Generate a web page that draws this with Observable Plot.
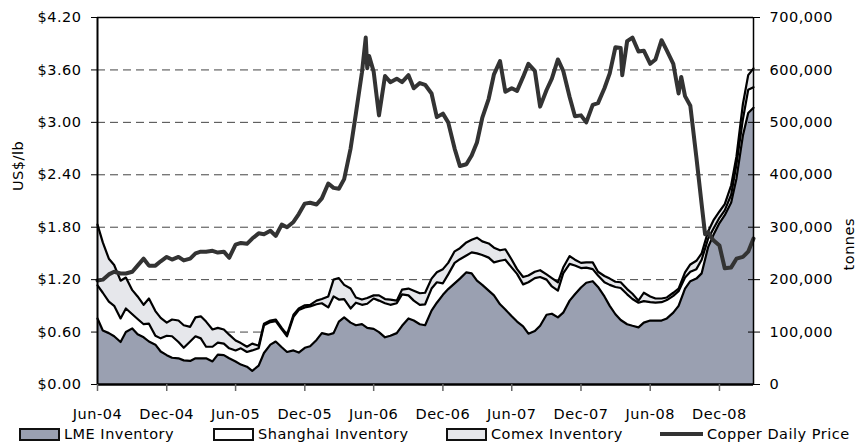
<!DOCTYPE html>
<html><head><meta charset="utf-8">
<script src="https://cdn.jsdelivr.net/npm/d3@7"></script>
<script src="https://cdn.jsdelivr.net/npm/@observablehq/plot@0.6"></script>
<style>
body{margin:0;background:#fff;font-family:"DejaVu Sans",sans-serif;}
#wrap{width:856px;overflow:hidden;}
.legend{position:relative;height:24px;width:856px;font-size:14.5px;letter-spacing:0.5px;color:#000;}
.item{position:absolute;top:0;height:24px;display:flex;align-items:center;white-space:nowrap;}
.sw{display:inline-block;width:37px;height:9px;border:2px solid #111;margin-right:4px;}
.ln{display:inline-block;width:43px;height:4px;background:#333;margin-right:4px;}
</style></head><body>
<div id="wrap"><div id="chart"></div>
<div class="legend" id="legend"></div></div>
<script>
// Semi-monthly observation dates
const dates = [
"2004-06-01","2004-06-15","2004-07-01","2004-07-15","2004-08-01","2004-08-15","2004-09-01","2004-09-15","2004-10-01","2004-10-15",
"2004-11-01","2004-11-15","2004-12-01","2004-12-15","2005-01-01","2005-01-15","2005-02-01","2005-02-15","2005-03-01","2005-03-15",
"2005-04-01","2005-04-15","2005-05-01","2005-05-15","2005-06-01","2005-06-15","2005-07-01","2005-07-15","2005-08-01","2005-08-15",
"2005-09-01","2005-09-15","2005-10-01","2005-10-15","2005-11-01","2005-11-15","2005-12-01","2005-12-15","2006-01-01","2006-01-15",
"2006-02-01","2006-02-15","2006-03-01","2006-03-15","2006-04-01","2006-04-15","2006-05-01","2006-05-15","2006-06-01","2006-06-15",
"2006-07-01","2006-07-15","2006-08-01","2006-08-15","2006-09-01","2006-09-15","2006-10-01","2006-10-15","2006-11-01","2006-11-15",
"2006-12-01","2006-12-15","2007-01-01","2007-01-15","2007-02-01","2007-02-15","2007-03-01","2007-03-15","2007-04-01","2007-04-15",
"2007-05-01","2007-05-15","2007-06-01","2007-06-15","2007-07-01","2007-07-15","2007-08-01","2007-08-15","2007-09-01","2007-09-15",
"2007-10-01","2007-10-15","2007-11-01","2007-11-15","2007-12-01","2007-12-15","2008-01-01","2008-01-15","2008-02-01","2008-02-15",
"2008-03-01","2008-03-15","2008-04-01","2008-04-15","2008-05-01","2008-05-15","2008-06-01","2008-06-15","2008-07-01","2008-07-15",
"2008-08-01","2008-08-15","2008-09-01","2008-09-15","2008-10-01","2008-10-15","2008-11-01","2008-11-15","2008-12-01","2008-12-15",
"2009-01-01","2009-01-15","2009-02-01","2009-02-15","2009-03-01"];

// Inventories, thousand tonnes
const lmeKt = [
126,103,98,92,81,100,107,96,90,82,
76,63,56,51,50,46,45,50,50,50,
44,57,56,50,44,38,34,26,36,60,
76,82,71,62,65,61,70,73,85,98,
95,98,120,128,118,113,115,108,106,100,
90,93,98,112,126,122,115,113,141,156,
171,182,193,202,214,212,198,190,179,170,
153,143,130,120,111,97,102,112,133,135,
128,137,160,172,185,194,197,186,168,150,
134,123,115,112,109,118,122,122,122,126,
137,150,183,197,202,212,262,285,308,323,
347,393,475,518,528];
const shanghaiKt = [
63,72,60,58,45,45,27,29,25,34,
17,25,37,41,31,24,37,42,38,22,
28,23,22,19,21,31,28,39,33,53,
43,39,34,30,64,81,77,76,68,57,
52,70,42,35,27,43,37,46,58,60,
65,59,57,60,44,38,37,40,42,39,
22,28,39,37,32,40,52,57,63,63,
83,95,93,91,80,98,101,93,67,52,
51,75,70,55,37,29,23,22,27,40,
52,61,57,51,47,41,35,34,35,35,
32,28,21,18,18,26,16,12,10,9,
15,27,31,44,39];
const comexKt = [
116,96,82,78,72,59,46,43,37,48,
47,39,25,32,41,43,28,36,42,48,
33,28,27,26,19,10,10,13,5,3,
3,3,3,3,4,3,4,3,7,8,
21,32,41,27,38,10,10,11,6,10,
8,10,5,9,13,19,22,22,19,19,
27,22,22,21,25,24,30,26,27,28,
20,20,15,9,14,13,12,13,10,16,
16,11,15,11,10,10,13,7,12,12,
10,11,10,10,4,16,11,8,7,5,
6,5,10,14,16,12,14,16,12,12,
18,15,29,28,36];

// Copper daily price (sampled), US$/lb
const priceDates = [
"2004-06-01","2004-06-15","2004-07-01","2004-07-15","2004-08-01","2004-08-15","2004-09-01","2004-09-15","2004-10-01","2004-10-15",
"2004-11-01","2004-11-15","2004-12-01","2004-12-15","2005-01-01","2005-01-15","2005-02-01","2005-02-15","2005-03-01","2005-03-15",
"2005-04-01","2005-04-15","2005-05-01","2005-05-15","2005-06-01","2005-06-15","2005-07-01","2005-07-15","2005-08-01","2005-08-15",
"2005-09-01","2005-09-15","2005-10-01","2005-10-15","2005-11-01","2005-11-15","2005-12-01","2005-12-15","2006-01-01","2006-01-15",
"2006-02-01","2006-02-15","2006-03-01","2006-03-15","2006-04-01","2006-04-15","2006-05-01","2006-05-11","2006-05-15","2006-05-20",
"2006-06-01","2006-06-15","2006-07-01","2006-07-15","2006-08-01","2006-08-15","2006-09-01","2006-09-15","2006-10-01","2006-10-15",
"2006-11-01","2006-11-15","2006-12-01","2006-12-15","2007-01-01","2007-01-15","2007-02-01","2007-02-15","2007-03-01","2007-03-15",
"2007-04-01","2007-04-15","2007-05-01","2007-05-15","2007-06-01","2007-06-15","2007-07-01","2007-07-15","2007-08-01","2007-08-15",
"2007-09-01","2007-09-15","2007-10-01","2007-10-15","2007-11-01","2007-11-15","2007-12-01","2007-12-15","2008-01-01","2008-01-15",
"2008-02-01","2008-02-15","2008-03-01","2008-03-15","2008-03-19","2008-04-01","2008-04-15","2008-05-01","2008-05-15","2008-06-01",
"2008-06-15","2008-07-01","2008-07-15","2008-08-01","2008-08-15","2008-08-22","2008-09-01","2008-09-15","2008-10-01","2008-10-15",
"2008-10-24","2008-11-01","2008-11-15","2008-12-01","2008-12-15","2009-01-01","2009-01-15","2009-02-01","2009-02-15","2009-03-01"];
const priceUSD = [
1.19,1.20,1.26,1.29,1.27,1.27,1.29,1.36,1.44,1.36,
1.36,1.41,1.46,1.43,1.46,1.42,1.44,1.50,1.52,1.52,
1.53,1.51,1.52,1.45,1.60,1.62,1.61,1.67,1.73,1.72,
1.76,1.70,1.83,1.80,1.86,1.95,2.07,2.08,2.06,2.13,
2.30,2.25,2.24,2.35,2.70,3.10,3.57,3.97,3.62,3.76,
3.58,3.08,3.53,3.46,3.50,3.46,3.54,3.39,3.45,3.43,
3.33,3.06,3.10,3.00,2.70,2.50,2.52,2.62,2.77,3.05,
3.27,3.55,3.70,3.35,3.39,3.36,3.52,3.67,3.59,3.18,
3.37,3.50,3.72,3.59,3.29,3.07,3.08,3.00,3.20,3.22,
3.39,3.56,3.86,3.85,3.54,3.93,3.97,3.81,3.82,3.67,
3.72,3.94,3.82,3.67,3.33,3.52,3.30,3.19,2.60,2.06,
1.72,1.74,1.65,1.59,1.33,1.34,1.44,1.46,1.52,1.67];

const seriesNames = ["LME Inventory","Shanghai Inventory","Comex Inventory"];
const seriesFills = ["#9aa0b1","#ffffff","#e6e7eb"];
const leftTicks = [0,0.6,1.2,1.8,2.4,3.0,3.6,4.2];
const rightTicks = [0,100000,200000,300000,400000,500000,600000,700000];
const gridTonnes = [100000,200000,300000,400000,500000,600000];
const xTickDates = ["2004-06-01","2004-12-01","2005-06-01","2005-12-01","2006-06-01","2006-12-01","2007-06-01","2007-12-01","2008-06-01","2008-12-01"];
const xDomain = ["2004-06-01","2009-03-01"];

const parse = d3.utcParse("%Y-%m-%d");
const SCALE = 700000 / 4.2; // tonnes per US$/lb on the shared y scale
const seriesKt = [lmeKt, shanghaiKt, comexKt];
const inv = seriesNames.flatMap((s, j) => dates.map((d, i) => ({date: parse(d), series: s, value: seriesKt[j][i] * 1000})));
const price = priceDates.map((d, i) => ({date: parse(d), usd: priceUSD[i]}));
const xd = xDomain.map(parse);

const chart = Plot.plot({
  width: 856, height: 422,
  marginLeft: 97, marginRight: 103, marginTop: 17, marginBottom: 38,
  style: {fontFamily: '"DejaVu Sans", sans-serif', fontSize: "14.5px", letterSpacing: "0.5px", color: "#000", background: "#fff", overflow: "visible"},
  x: {type: "utc", domain: xd},
  y: {domain: [0, 700000]},
  color: {domain: seriesNames, range: seriesFills},
  marks: [
    Plot.ruleY(gridTonnes, {stroke: "#444", strokeDasharray: "8,5", strokeWidth: 1}),
    Plot.areaY(inv, {x: "date", y: "value", z: "series", fill: "series", order: seriesNames}),
    Plot.lineY(inv, Plot.stackY2({x: "date", y: "value", z: "series", order: seriesNames, stroke: "#000", strokeWidth: 2.2, strokeLinejoin: "round"})),
    Plot.lineY(price, {x: "date", y: d => d.usd * SCALE, stroke: "#333", strokeWidth: 4, strokeLinejoin: "round"}),
    Plot.ruleY([700000], {stroke: "#000", strokeWidth: 1.5}),
    Plot.ruleX([xd[0]], {stroke: "#000", strokeWidth: 2}),
    Plot.ruleX([xd[1]], {stroke: "#000", strokeWidth: 1.5}),
    Plot.ruleY([0], {stroke: "#000", strokeWidth: 2.5}),
    Plot.axisY(leftTicks.map(p => p * SCALE), {anchor: "left", tickSize: 6, tickPadding: 10, stroke: "#000", tickFormat: d => "$" + (d / SCALE).toFixed(2), label: null}),
    Plot.axisY(rightTicks, {anchor: "right", tickSize: 12, dx: -6, stroke: "#000", tickFormat: () => "", label: null}),
    Plot.axisY(rightTicks, {anchor: "right", tickSize: 0, tickPadding: 16, tickFormat: d3.format(","), label: null}),
    Plot.axisX(xTickDates.map(parse), {tickSize: 7, tickPadding: 17, stroke: "#666", strokeWidth: 1.5, tickFormat: d3.utcFormat("%b-%y"), label: null}),
    Plot.text(["US$/lb"], {frameAnchor: "left", dx: -79, dy: -10, rotate: -90}),
    Plot.text(["tonnes"], {frameAnchor: "right", dx: 96, dy: 17, rotate: -90})
  ]
});
document.getElementById("chart").appendChild(chart);

// Legend (HTML, below the SVG)
const legendItems = [
  {label: "LME Inventory", fill: seriesFills[0], left: 19, kind: "box"},
  {label: "Shanghai Inventory", fill: seriesFills[1], left: 213, kind: "box"},
  {label: "Comex Inventory", fill: seriesFills[2], left: 446, kind: "box"},
  {label: "Copper Daily Price", fill: "#333", left: 660, kind: "line"}
];
const lg = document.getElementById("legend");
for (const it of legendItems) {
  const div = document.createElement("div");
  div.className = "item";
  div.style.left = it.left + "px";
  const sw = document.createElement("span");
  sw.className = it.kind === "box" ? "sw" : "ln";
  sw.style.background = it.fill;
  div.appendChild(sw);
  div.appendChild(document.createTextNode(it.label));
  lg.appendChild(div);
}
</script>
</body></html>
